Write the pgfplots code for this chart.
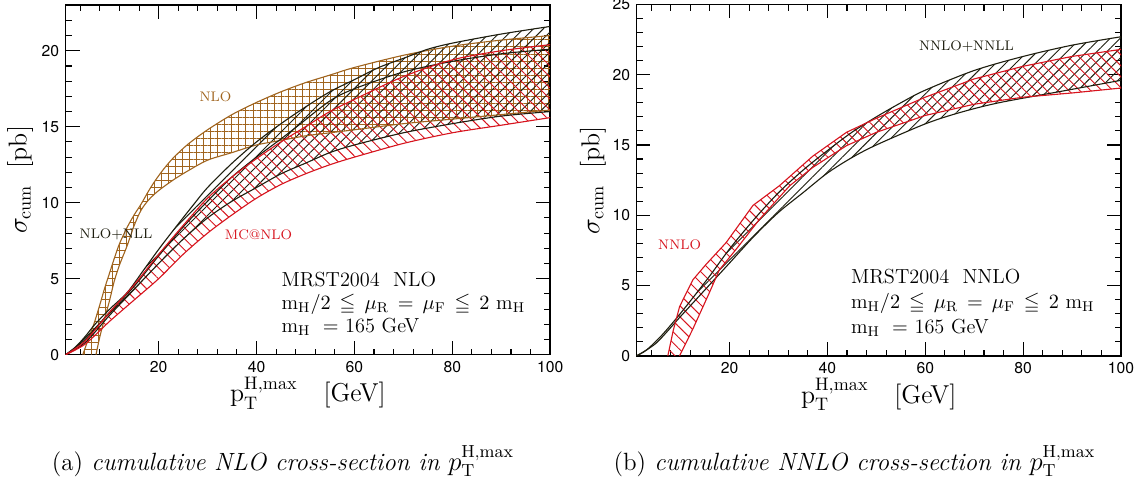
\documentclass[border=0pt]{standalone}
\usepackage{amssymb}
\usepackage{fontspec}
\usepackage{pgfplots}
\pgfplotsset{compat=1.18}
\usepgfplotslibrary{fillbetween}
\usetikzlibrary{patterns.meta}
\newfontfamily\helv{TeX Gyre Heros}
\definecolor{nlobrown}{RGB}{160,100,30}
\definecolor{mcred}{RGB}{215,20,30}
\definecolor{nlldark}{RGB}{30,30,15}
\pgfplotsset{
  myax/.style={
    scale only axis, width=262pt,
    xmin=1, xmax=100, ymin=0,
    xtick={20,40,60,80,100}, minor xtick={4,8,...,96},
    tick align=inside, major tick length=7.5pt, minor tick length=3.3pt,
    axis line style={line width=0.8pt},
    every tick/.style={black, line width=0.6pt},
    ticklabel style={font=\helv\fontsize{8.5}{10}\selectfont},
    /pgf/number format/assume math mode=true,
    xlabel={$\mathrm{p}_{\mathrm{T}}^{\mathrm{H,max}}$\quad [GeV]},
    ylabel={$\sigma_{\mathrm{cum}}$\ \ [pb]},
    label style={font=\fontsize{14}{16}\selectfont},
    xlabel style={at={(axis description cs:0.5,-0.135)}, anchor=base},
  },
  bandline/.style={smooth, line width=0.6pt},
}
\newcommand{\lab}{\fontsize{7.5}{9}\selectfont}
\newcommand{\info}{\fontsize{11}{12}\selectfont}
\newcommand{\scaleline}{$\mathrm{m_H}/2\,\leqq\,\mu_{\mathrm{R}}\,=\,\mu_{\mathrm{F}}\,\leqq\,2\ \mathrm{m_H}$}
\begin{document}
\begin{tikzpicture}
% ---------------- left panel ----------------
\begin{axis}[myax, at={(35.5pt,69.2pt)}, anchor=south west, height=189pt,
  ymax=23, ytick={0,5,10,15,20}, minor ytick={1,...,22},
  ylabel style={at={(axis description cs:-0.094,0.5)}, anchor=center}]
% NLO (brown)
\addplot[name path=nu, nlobrown, bandline] coordinates {
(4.5,0) (5.5,0.9) (6.85,2.1) (8,3.3) (8.9,4.3) (10,5.4) (10.9,6.3) (12,7.3) (13.6,8.4) (15,9.2) (16.4,9.9) (18,10.8) (19.4,11.5) (21,12.2) (23,12.95) (26,13.85) (30,14.8) (35,15.8) (40,16.6) (45,17.3) (50,17.9) (55,18.4) (60,18.9) (70,19.7) (80,20.3) (90,20.7) (100,21.0)};
\addplot[name path=nl, nlobrown, bandline] coordinates {
(7.2,0) (8,1.2) (8.9,2.3) (10,3.6) (10.9,4.8) (12,5.9) (13.6,7.2) (15,8.5) (16.4,9.5) (18,10.2) (20,10.8) (23,11.5) (26,12.1) (30,12.8) (35,13.3) (40,13.8) (45,14.1) (50,14.4) (55,14.6) (60,14.8) (70,15.2) (80,15.5) (90,15.8) (100,16.1)};
\addplot[draw=none, pattern={Hatch[angle=0,distance=3.8pt,line width=0.5pt]}, pattern color=nlobrown] fill between[of=nu and nl];
% NLO+NLL (black)
\addplot[name path=bu, nlldark, bandline] coordinates {
(1,0) (3,0.5) (5,1.2) (7,2.0) (10,3.0) (13.6,4.1) (17,5.6) (20.4,7.1) (24,8.6) (27.2,9.9) (30,11.0) (35,12.6) (40,14.0) (45,15.2) (50,16.3) (55,17.3) (60,18.1) (65,18.9) (70,19.5) (75,20.1) (80,20.5) (90,21.1) (100,21.6)};
\addplot[nlldark, bandline] coordinates {
(1,0) (5,1.0) (10,2.8) (15,4.5) (20,6.5) (25,8.4) (30,10.1) (35,11.7) (40,13.0) (45,14.2) (49,15.2) (55,16.7) (60,17.5) (70,18.6) (80,19.3) (90,19.8) (100,20.1)};
\addplot[name path=bl, nlldark, bandline] coordinates {
(1,0) (5,0.8) (10,2.6) (15,4.3) (20,6.0) (25,7.6) (30,9.0) (35,10.1) (40,11.0) (45,11.9) (50,12.6) (55,13.3) (60,13.8) (70,14.6) (80,15.2) (90,15.7) (100,16.0)};
\addplot[draw=none, pattern={Lines[angle=45,distance=3.8pt,line width=0.5pt]}, pattern color=nlldark] fill between[of=bu and bl];
% MC@NLO (red)
\addplot[name path=ru, mcred, bandline] coordinates {
(1,0) (5,0.9) (10,2.8) (15,4.6) (20,6.6) (25,8.5) (30,10.3) (35,11.7) (40,12.9) (45,14.0) (50,15.0) (55,16.0) (60,16.8) (70,18.3) (80,19.4) (90,20.0) (100,20.4)};
\addplot[name path=rl, mcred, bandline] coordinates {
(1,0) (5,0.7) (10,2.2) (15,3.6) (20,5.0) (25,6.6) (30,8.0) (35,9.2) (40,10.3) (45,11.2) (50,11.9) (55,12.5) (60,13.0) (70,13.9) (80,14.6) (90,15.1) (100,15.6)};
\addplot[draw=none, pattern={Lines[angle=-45,distance=4.2pt,line width=0.5pt]}, pattern color=mcred] fill between[of=ru and rl];
% labels
\node[nlobrown, font=\lab] at (axis cs:31.6,17.0) {NLO};
\node[nlldark, font=\lab] at (axis cs:11.3,7.9) {NLO+NLL};
\node[mcred, font=\lab] at (axis cs:40.4,7.9) {MC@NLO};
\node[anchor=base west, font=\info] at (axis cs:43.8,4.47) {MRST2004\ \ NLO};
\node[anchor=base west, font=\info] at (axis cs:43.8,2.96) {\scaleline};
\node[anchor=base west, font=\info] at (axis cs:43.8,1.47) {$\mathrm{m_H}\ =\ $165\ GeV};
\end{axis}
% ---------------- right panel ----------------
\begin{axis}[myax, at={(344.2pt,68.6pt)}, anchor=south west, height=190pt,
  ymax=25, ytick={0,5,10,15,20,25}, minor ytick={1,...,24},
  ylabel style={at={(axis description cs:-0.09,0.5)}, anchor=center}]
\addplot[name path=Bu, nlldark, bandline] coordinates {
(1,0) (3,0.4) (6,1.4) (9,2.6) (12,3.9) (16,5.7) (20,7.6) (25,9.7) (30,11.6) (35,13.2) (40,14.6) (45,15.9) (50,17.0) (55,18.0) (60,18.9) (70,20.3) (80,21.3) (90,22.1) (100,22.7)};
\addplot[name path=Bl, nlldark, bandline] coordinates {
(1,0) (5,0.9) (10,2.8) (15,4.7) (20,6.6) (25,8.5) (30,10.2) (35,11.6) (40,13.0) (45,14.1) (50,15.0) (60,16.5) (67,17.3) (75,18.0) (87.5,18.8) (100,19.6)};
\addplot[draw=none, pattern={Lines[angle=45,distance=3.8pt,line width=0.5pt]}, pattern color=nlldark] fill between[of=Bu and Bl];
\addplot[name path=Ru, mcred, line width=0.6pt] coordinates {
(7.4,0) (8.5,1.8) (9.8,3.5) (12.5,5.4) (15.2,6.5) (19.3,8.05) (24.8,10.7) (30.2,12.1) (37,14.2) (43.9,15.9) (50,16.9) (60,18.4) (70,19.7) (80,20.6) (90,21.3) (100,21.8)};
\addplot[name path=Rl, mcred, line width=0.6pt] coordinates {
(9.8,0) (12.5,1.9) (15.9,4.5) (17.9,6.1) (21.4,7.6) (26.1,9.7) (32.3,12.1) (37,13.4) (43.9,14.95) (50,15.9) (60,17.1) (70,17.9) (80,18.4) (90,18.7) (100,19.05)};
\addplot[draw=none, pattern={Lines[angle=-45,distance=4.2pt,line width=0.5pt]}, pattern color=mcred] fill between[of=Ru and Rl];
\node[mcred, font=\lab] at (axis cs:9.8,7.9) {NNLO};
\node[nlldark, font=\lab] at (axis cs:68.4,22.0) {NNLO+NNLL};
\node[anchor=base west, font=\info] at (axis cs:43.5,5.14) {MRST2004\ \ NNLO};
\node[anchor=base west, font=\info] at (axis cs:43.5,3.34) {\scaleline};
\node[anchor=base west, font=\info] at (axis cs:43.5,1.57) {$\mathrm{m_H}\ =\ $165\ GeV};
\end{axis}
% captions
\node[font=\fontsize{13.5}{16}\selectfont] at (153pt,11.5pt) {(a) \textit{cumulative NLO cross-section in} $p_{\mathrm{T}}^{\mathrm{H,max}}$};
\node[font=\fontsize{13.5}{16}\selectfont] at (462pt,11.5pt) {(b) \textit{cumulative NNLO cross-section in} $p_{\mathrm{T}}^{\mathrm{H,max}}$};
\pgfresetboundingbox
\path[use as bounding box] (0,0) rectangle (617pt,261pt);
\end{tikzpicture}
\end{document}
